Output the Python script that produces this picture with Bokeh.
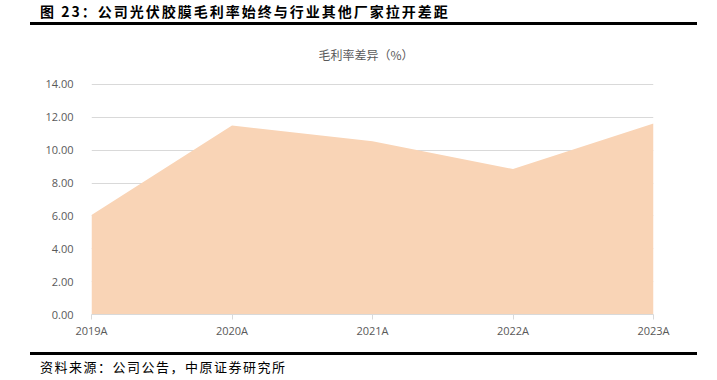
from bokeh.plotting import figure
from bokeh.models import Range1d, NumeralTickFormatter, FixedTicker, Div
from bokeh.layouts import column
from bokeh.embed import file_html
from bokeh.resources import INLINE

categories = ["2019A", "2020A", "2021A", "2022A", "2023A"]
gap_values = [6.05, 11.50, 10.55, 8.85, 11.63]
y_ticks = [0, 2, 4, 6, 8, 10, 12, 14]

fig_title = "图 23：公司光伏胶膜毛利率始终与行业其他厂家拉开差距"
chart_title = "毛利率差异（%）"
source_text = "资料来源：公司公告，中原证券研究所"

CJK = "'Noto Sans CJK SC'"
label_color = "#595959"

header = Div(
    text=(
        '<div style="position:relative;width:717px;height:70px;">'
        f'<div style="position:absolute;left:40px;top:2px;font-family:{CJK};font-weight:bold;'
        f'font-size:14px;letter-spacing:2px;color:#000;white-space:nowrap;line-height:18px;">{fig_title}</div>'
        '<div style="position:absolute;left:30px;top:22px;width:667px;height:3px;background:#000;"></div>'
        f'<div style="position:absolute;left:266px;top:46px;width:200px;text-align:center;font-family:{CJK};'
        f'font-size:12px;color:{label_color};white-space:nowrap;line-height:18px;">{chart_title}</div>'
        '</div>'
    ),
    width=717, height=70, margin=(0, 0, 0, 0),
)

footer = Div(
    text=(
        '<div style="position:relative;width:717px;height:30px;">'
        '<div style="position:absolute;left:30px;top:2px;width:667px;height:3px;background:#000;"></div>'
        f'<div style="position:absolute;left:40px;top:8px;font-family:{CJK};'
        f'font-size:13px;letter-spacing:1.5px;color:#000;white-space:nowrap;line-height:18px;">{source_text}</div>'
        '</div>'
    ),
    width=717, height=30, margin=(0, 0, 0, 0),
)

xs = list(range(len(categories)))

p = figure(
    width=717, height=280,
    x_range=Range1d(0, len(categories) - 1),
    y_range=Range1d(0, 14.06),
    output_backend="svg", toolbar_location=None,
    min_border_left=91, min_border_right=64,
    min_border_top=13, min_border_bottom=36,
    outline_line_color=None, margin=(0, 0, 0, 0),
)

p.varea(x=xs, y1=[0] * len(xs), y2=gap_values, fill_color="#F9D4B6", fill_alpha=1.0)

# y axis
p.yaxis.ticker = FixedTicker(ticks=y_ticks)
p.yaxis.formatter = NumeralTickFormatter(format="0.00")
p.yaxis.axis_line_color = None
p.yaxis.major_tick_line_color = None
p.yaxis.minor_tick_line_color = None
p.yaxis.major_label_standoff = 12
p.yaxis.major_label_text_font = "Open Sans"
p.yaxis.major_label_text_font_size = "11px"
p.yaxis.major_label_text_color = label_color

# x axis
p.xaxis.ticker = FixedTicker(ticks=xs)
p.xaxis.major_label_overrides = {i: c for i, c in zip(xs, categories)}
p.xaxis.axis_line_color = "#D9D9D9"
p.xaxis.major_tick_line_color = "#D9D9D9"
p.xaxis.major_tick_in = 0
p.xaxis.major_tick_out = 5
p.xaxis.minor_tick_line_color = None
p.xaxis.major_label_standoff = 3
p.xaxis.major_label_text_font = "Open Sans"
p.xaxis.major_label_text_font_size = "11px"
p.xaxis.major_label_text_color = label_color

p.xgrid.grid_line_color = None
p.ygrid.grid_line_color = "#D9D9D9"
p.ygrid.grid_line_width = 1

layout = column(header, p, footer, spacing=0, margin=(0, 0, 0, 0))

open("out.html", "w").write(file_html(layout, INLINE))
